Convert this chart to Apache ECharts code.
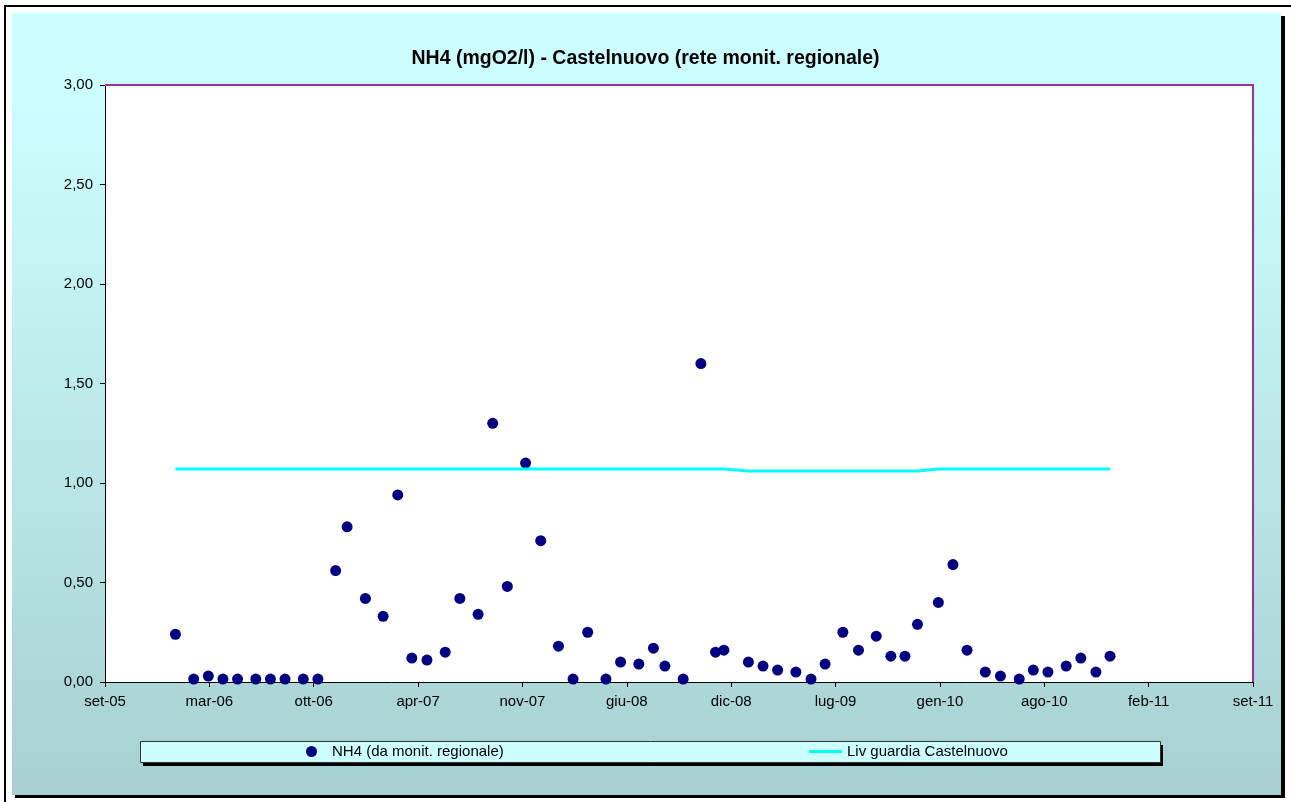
<!DOCTYPE html>
<html>
<head>
<meta charset="utf-8">
<title>NH4 Castelnuovo</title>
<script src="https://cdn.jsdelivr.net/npm/echarts@6/dist/echarts.min.js"></script>
<style>
  html, body { margin: 0; padding: 0; background: #fff; }
  #chart { width: 1291px; height: 802px; }
</style>
</head>
<body>
<div id="chart"></div>
<script>
// date di campionamento (una al mese)
var sampleDates = [
  '2006-01-18','2006-02-22','2006-03-22','2006-04-19','2006-05-17','2006-06-21','2006-07-19','2006-08-16','2006-09-20','2006-10-18',
  '2006-11-21','2006-12-13','2007-01-17','2007-02-20','2007-03-20','2007-04-16','2007-05-15','2007-06-19','2007-07-17','2007-08-21',
  '2007-09-18','2007-10-16','2007-11-20','2007-12-19','2008-01-22','2008-02-19','2008-03-18','2008-04-22','2008-05-20','2008-06-24',
  '2008-07-22','2008-08-13','2008-09-17','2008-10-21','2008-11-18','2008-12-04','2009-01-20','2009-02-17','2009-03-17','2009-04-21',
  '2009-05-20','2009-06-16','2009-07-20','2009-08-19','2009-09-22','2009-10-20','2009-11-16','2009-12-10','2010-01-19','2010-02-16',
  '2010-03-15','2010-04-19','2010-05-18','2010-06-23','2010-07-20','2010-08-17','2010-09-21','2010-10-19','2010-11-17','2010-12-14'
];
var nh4Values = [
  0.24, 0.015, 0.03, 0.015, 0.015, 0.015, 0.015, 0.015, 0.015, 0.015,
  0.56, 0.78, 0.42, 0.33, 0.94, 0.12, 0.11, 0.15, 0.42, 0.34,
  1.30, 0.48, 1.10, 0.71, 0.18, 0.015, 0.25, 0.015, 0.10, 0.09,
  0.17, 0.08, 0.015, 1.60, 0.15, 0.16, 0.10, 0.08, 0.06, 0.05,
  0.015, 0.09, 0.25, 0.16, 0.23, 0.13, 0.13, 0.29, 0.40, 0.59,
  0.16, 0.05, 0.03, 0.015, 0.06, 0.05, 0.08, 0.12, 0.05, 0.13
];
var guardiaValues = [
  1.07, 1.07, 1.07, 1.07, 1.07, 1.07, 1.07, 1.07, 1.07, 1.07,
  1.07, 1.07, 1.07, 1.07, 1.07, 1.07, 1.07, 1.07, 1.07, 1.07,
  1.07, 1.07, 1.07, 1.07, 1.07, 1.07, 1.07, 1.07, 1.07, 1.07,
  1.07, 1.07, 1.07, 1.07, 1.07, 1.07, 1.06, 1.06, 1.06, 1.06,
  1.06, 1.06, 1.06, 1.06, 1.06, 1.06, 1.06, 1.06, 1.07, 1.07,
  1.07, 1.07, 1.07, 1.07, 1.07, 1.07, 1.07, 1.07, 1.07, 1.07
];
var seriesNames = ['NH4 (da monit. regionale)', 'Liv guardia Castelnuovo'];
var monthsIt = ['gen','feb','mar','apr','mag','giu','lug','ago','set','ott','nov','dic'];

// numeri seriali tipo Excel (giorni dal 30/12/1899)
var X_MIN = 38600, X_MAX = 40800, X_STEP = 200;
var Y_MIN = 0, Y_MAX = 3, Y_STEP = 0.5;

function toSerial(s) {
  var p = s.split('-').map(Number);
  return Math.round((Date.UTC(p[0], p[1] - 1, p[2]) - Date.UTC(1899, 11, 30)) / 86400000);
}
function fmtSerial(v) {
  var d = new Date(Date.UTC(1899, 11, 30) + v * 86400000);
  return monthsIt[d.getUTCMonth()] + '-' + String(d.getUTCFullYear() % 100).padStart(2, '0');
}

var nh4Data = sampleDates.map(function (d, i) { return [toSerial(d), nh4Values[i]]; });
var guardiaData = sampleDates.map(function (d, i) { return [toSerial(d), guardiaValues[i]]; });

var myChart = echarts.init(document.getElementById('chart'));
var font = '"Liberation Sans", Arial, sans-serif';

var option = {
  backgroundColor: '#fff',
  animation: false,
  title: {
    text: 'NH4 (mgO2/l) - Castelnuovo (rete monit. regionale)',
    left: 'center',
    top: 44,
    textStyle: { fontFamily: font, fontSize: 19.5, fontWeight: 'bold', color: '#000' }
  },
  graphic: [
    // cornice esterna
    { type: 'line', z: -20, shape: { x1: 4, y1: 6, x2: 1291, y2: 6 }, style: { stroke: '#000', lineWidth: 2 } },
    { type: 'line', z: -20, shape: { x1: 5, y1: 6, x2: 5, y2: 802 }, style: { stroke: '#000', lineWidth: 2 } },
    // ombra e sfondo area grafico
    { type: 'rect', z: -20, shape: { x: 15, y: 16, width: 1270, height: 782 }, style: { fill: '#000' } },
    {
      type: 'rect', z: -19, shape: { x: 12, y: 13, width: 1269, height: 782 },
      style: {
        fill: new echarts.graphic.LinearGradient(0, 0, 0, 1, [
          { offset: 0, color: '#ccffff' },
          { offset: 0.1, color: '#ccffff' },
          { offset: 1, color: '#a8d0d0' }
        ])
      }
    },
    // bordo superiore e destro dell'area del tracciato
    { type: 'polyline', z: 5, shape: { points: [[105, 85], [1253, 85], [1253, 682]] }, style: { stroke: '#993399', lineWidth: 2, fill: null } },
    // riquadro legenda
    { type: 'rect', z: 1, shape: { x: 143, y: 745, width: 1020, height: 21 }, style: { fill: '#000' } },
    { type: 'rect', z: 2, shape: { x: 140.5, y: 741.5, width: 1020, height: 21 }, style: { fill: '#ccffff', stroke: '#333', lineWidth: 1 } }
  ],
  legend: [
    {
      data: [seriesNames[0]], left: 306, top: 744, padding: 0, selectedMode: false,
      icon: 'circle', itemWidth: 11, itemHeight: 11,
      textStyle: { fontFamily: font, fontSize: 15, color: '#000', padding: [0, 0, 0, 10] }
    },
    {
      data: [seriesNames[1]], left: 809, top: 744, padding: 0, selectedMode: false,
      icon: 'rect', itemWidth: 33, itemHeight: 3,
      textStyle: { fontFamily: font, fontSize: 15, color: '#000' }
    }
  ],
  grid: {
    left: 105, top: 85, width: 1148, height: 597,
    show: true, backgroundColor: '#fff', borderWidth: 0
  },
  xAxis: {
    type: 'value',
    min: X_MIN, max: X_MAX, interval: X_STEP,
    axisLine: { show: true, onZero: false, lineStyle: { color: '#000', width: 1 } },
    axisTick: { show: true, inside: false, length: 5, lineStyle: { color: '#000' } },
    splitLine: { show: false },
    axisLabel: {
      margin: 12, fontFamily: font, fontSize: 15, color: '#000',
      showMinLabel: true, showMaxLabel: true,
      formatter: fmtSerial
    }
  },
  yAxis: {
    type: 'value',
    min: Y_MIN, max: Y_MAX, interval: Y_STEP,
    axisLine: { show: true, lineStyle: { color: '#000', width: 1 } },
    axisTick: { show: true, inside: false, length: 5, lineStyle: { color: '#000' } },
    splitLine: { show: false },
    axisLabel: {
      margin: 12, fontFamily: font, fontSize: 15, color: '#000',
      formatter: function (v) { return v.toFixed(2).replace('.', ','); }
    }
  },
  series: [
    {
      name: seriesNames[1],
      type: 'line',
      data: guardiaData,
      symbol: 'none',
      lineStyle: { color: '#00ffff', width: 3 },
      itemStyle: { color: '#00ffff' }
    },
    {
      name: seriesNames[0],
      type: 'scatter',
      data: nh4Data,
      symbol: 'circle',
      symbolSize: 11,
      itemStyle: { color: '#000080', opacity: 1 }
    }
  ]
};
myChart.setOption(option);
</script>
</body>
</html>
